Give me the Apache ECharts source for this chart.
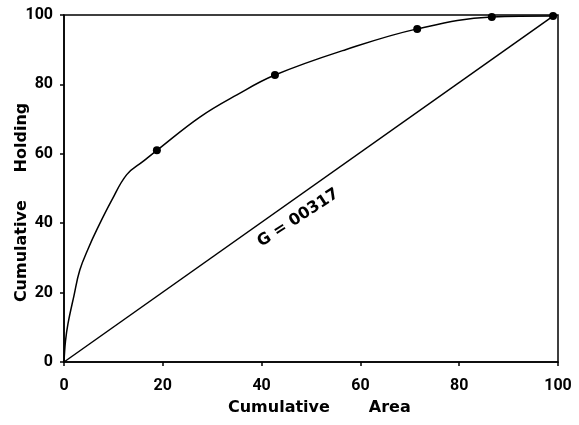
<!DOCTYPE html>
<html>
<head>
<meta charset="utf-8" />
<title>Lorenz curve</title>
<script src="https://cdn.jsdelivr.net/npm/echarts@6/dist/echarts.min.js"></script>
<style>
  html, body { margin: 0; padding: 0; background: #fff; }
  #chart { width: 579px; height: 425px; }
</style>
</head>
<body>
<div id="chart"></div>
<script>
// values
var xTicks = [0, 20, 40, 60, 80, 100];
var yTicks = [0, 20, 40, 60, 80, 100];

// hand drawn Lorenz curve (cumulative area %, cumulative holding %)
var curveX = [0, 0.3, 0.8, 2, 3.2, 5, 6.6, 9.7, 12.7, 16, 18.8, 27.5, 35, 42.7, 57, 71.5, 86.6, 99];
var curveY = [0, 6, 11, 19, 26.5, 33, 38, 46.7, 54, 57.8, 61, 70.6, 77, 82.7, 90, 96, 99.4, 99.7];

// observed points (black dots)
var dotX = [18.8, 42.7, 71.5, 86.6, 99];
var dotY = [61, 82.7, 96, 99.4, 99.7];

// line of equality
var eqX = [0, 99];
var eqY = [0, 99.7];

var giniText = 'G = 00317';
var giniPos = [47.4, 41.5];

function pairs(xs, ys) {
  var out = [];
  for (var i = 0; i < xs.length; i++) out.push([xs[i], ys[i]]);
  return out;
}

var font = 'DejaVu Sans';
var tickFont = 'Roboto';
var ink = '#000';

var myChart = echarts.init(document.getElementById('chart'));
var option = {
  animation: false,
  backgroundColor: '#fff',
  grid: {
    left: 64, right: 21, top: 15, bottom: 63,
    outerBoundsMode: 'none',
    show: true, borderColor: ink, borderWidth: 1.5
  },
  xAxis: {
    type: 'value', min: 0, max: 100, interval: 20,
    name: '    Cumulative       Area ',
    nameLocation: 'middle', nameGap: 38, nameMoveOverlap: false,
    nameTextStyle: { color: ink, fontFamily: font, fontSize: 16, fontWeight: 'bold' },
    axisLine: { show: true, lineStyle: { color: ink, width: 1.5 } },
    axisTick: { show: true, length: 4, lineStyle: { color: ink, width: 1.5 } },
    axisLabel: { color: ink, fontFamily: tickFont, fontSize: 16, fontWeight: 'bold', margin: 16 },
    splitLine: { show: false }
  },
  yAxis: {
    type: 'value', min: 0, max: 100, interval: 20,
    name: 'Cumulative     Holding     ',
    nameLocation: 'middle', nameGap: 34, nameMoveOverlap: false,
    nameTextStyle: { color: ink, fontFamily: font, fontSize: 16, fontWeight: 'bold' },
    axisLine: { show: true, lineStyle: { color: ink, width: 1.5 } },
    axisTick: { show: true, length: 4, lineStyle: { color: ink, width: 1.5 } },
    axisLabel: { color: ink, fontFamily: tickFont, fontSize: 16, fontWeight: 'bold', margin: 11 },
    splitLine: { show: false }
  },
  series: [
    {
      name: 'equality', type: 'line', data: pairs(eqX, eqY),
      showSymbol: false, lineStyle: { color: ink, width: 1.5 }
    },
    {
      name: 'curve', type: 'line', data: pairs(curveX, curveY),
      smooth: 0.4, showSymbol: false, lineStyle: { color: ink, width: 1.5 }
    },
    {
      name: 'dots', type: 'scatter', data: pairs(dotX, dotY),
      symbolSize: 8, itemStyle: { color: ink, opacity: 1 }
    },
    {
      name: 'gini', type: 'scatter', data: [giniPos], symbolSize: 0,
      itemStyle: { opacity: 1 },
      label: {
        show: true, position: 'inside', formatter: giniText, rotate: 33,
        color: ink, fontFamily: font, fontSize: 16, fontWeight: 'bold', textBorderWidth: 0
      }
    }
  ]
};
myChart.setOption(option);
</script>
</body>
</html>
